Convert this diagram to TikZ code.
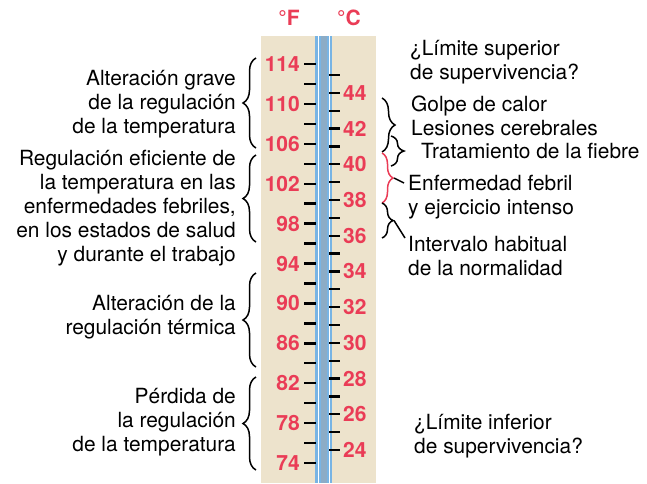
\documentclass[tikz,border=0pt]{standalone}
\usepackage{fontspec}
\setmainfont{TeX Gyre Heros}
\usetikzlibrary{decorations.pathreplacing, positioning}
\definecolor{thermored}{RGB}{234,60,86}
\definecolor{scaletan}{RGB}{237,227,204}
\definecolor{tubeblue}{RGB}{120,180,228}
\definecolor{tubesteel}{RGB}{140,172,198}

\begin{document}
\begin{tikzpicture}[
    x=1pt, y=-1pt,
    txt/.style={font=\fontsize{20.9}{24}\selectfont, inner sep=0pt},
    lefttxt/.style={txt, anchor=east, align=right},
    righttxt/.style={txt, anchor=west, align=left},
    degnum/.style={font=\fontsize{21}{22}\selectfont\bfseries, text=thermored, inner sep=0pt},
    scaletick/.style={line width=2.4pt},
    brace/.style={decorate, decoration={brace, amplitude=#1}, line width=1.5pt},
    brace/.default=13pt
]
\useasboundingbox (0,0) rectangle (647,483);

% scale and tube
\fill[scaletan] (261,36) rectangle (376,483);
\fill[tubeblue] (315,36) rectangle (332,483);
\fill[white] (317.5,36) rectangle (319,483);
\fill[white] (328.5,36) rectangle (330,483);
\fill[tubesteel] (320.5,36) rectangle (327,483);

\node[degnum] (degf) at (289,18) {°F};
\node[degnum] (degc) at (349,18) {°C};

\foreach \f in {74,76,...,114}
    \draw[scaletick] (304,{64+(114-\f)*9.975}) -- ++(12,0);
\foreach \f in {74,78,...,114}
    \node[degnum, anchor=east] (f\f) at (300,{64+(114-\f)*9.975}) {\f};
\foreach \c in {24,...,45}
    \draw[scaletick] (329,{75+(45-\c)*17.857}) -- ++(11,0);
\foreach \c in {24,26,...,44}
    \node[degnum, anchor=west] (c\c) at (343,{75+(45-\c)*17.857}) {\c};

% left side
\draw[brace] (256,148) -- (256,58);
\draw[brace] (256,242) -- (256,155);
\draw[brace] (256,367) -- (256,273);
\draw[brace] (256,470) -- (256,377);
\node[lefttxt] (grave) at (236,104) {Alteración grave\\de la regulación\\de la temperatura};
\node[lefttxt] (eficiente) at (236,208) {Regulación eficiente de\\la temperatura en las\\enfermedades febriles,\\en los estados de salud\\y durante el trabajo};
\node[lefttxt] (termica) at (236,317.5) {Alteración de la\\regulación térmica};
\node[lefttxt] (perdida) at (236,422.5) {Pérdida de\\la regulación\\de la temperatura};

% right side
\draw[brace] (382,98) -- (382,152);
\draw[brace] (391,136) -- (391,166);
\draw[brace=11pt, thermored] (382,153) -- (382,203) coordinate[midway, xshift=12pt] (febtip);
\draw[brace=11pt] (382,203) -- (382,238) coordinate[midway, xshift=12pt] (normtip);
\node[righttxt] (supmax) at (410,62) {¿Límite superior\\de supervivencia?};
\node[righttxt] (golpe) at (411,116) {Golpe de calor\\Lesiones cerebrales};
\node[righttxt] (fiebre) at (421,151) {Tratamiento de la fiebre};
\node[righttxt] (febril) at (408,197) {Enfermedad febril\\y ejercicio intenso};
\node[righttxt] (normal) at (408,256) {Intervalo habitual\\de la normalidad};
\node[righttxt] (supmin) at (414,436) {¿Límite inferior\\de supervivencia?};
\coordinate (febend) at (404,183);
\coordinate (normend) at (405,238);
\draw[line width=1.5pt] (febtip) -- (febend);
\draw[line width=1.5pt] (normtip) -- (normend);
\end{tikzpicture}
\end{document}
